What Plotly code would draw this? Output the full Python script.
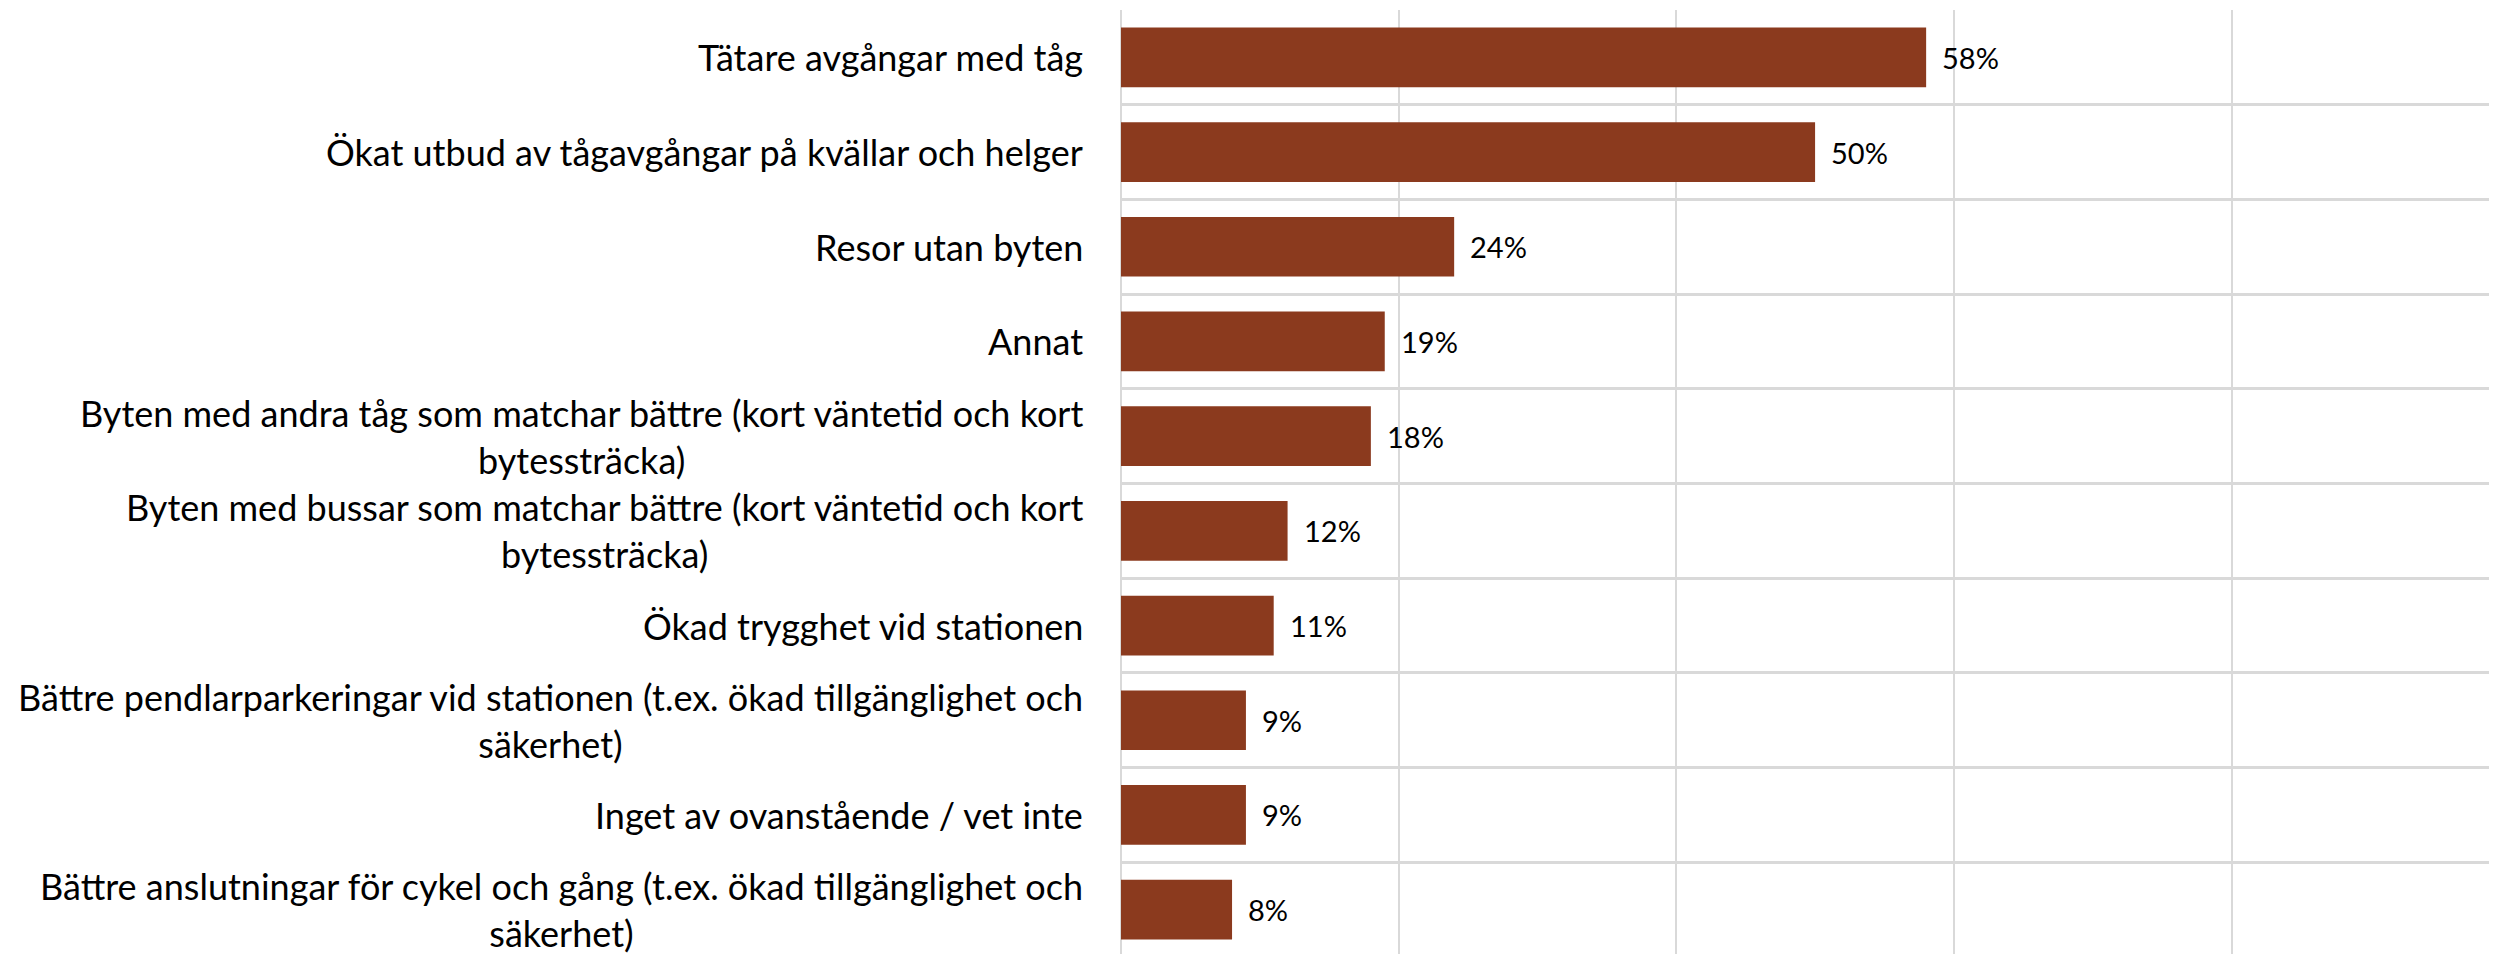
import plotly.graph_objects as go

categories = [
    "Tätare avgångar med tåg",
    "Ökat utbud av tågavgångar på kvällar och helger",
    "Resor utan byten",
    "Annat",
    "Byten med andra tåg som matchar bättre (kort väntetid och kort<br>bytessträcka)",
    "Byten med bussar som matchar bättre (kort väntetid och kort<br>bytessträcka)",
    "Ökad trygghet vid stationen",
    "Bättre pendlarparkeringar vid stationen (t.ex. ökad tillgänglighet och<br>säkerhet)",
    "Inget av ovanstående / vet inte",
    "Bättre anslutningar för cykel och gång (t.ex. ökad tillgänglighet och<br>säkerhet)",
]
values = [58, 50, 24, 19, 18, 12, 11, 9, 9, 8]
value_labels = ["58%", "50%", "24%", "19%", "18%", "12%", "11%", "9%", "9%", "8%"]
x_ticks = [0, 20, 40, 60, 80, 100]

FONT = "Lato"
BAR = "#8B3A1E"
GRID = "#D9D9D9"

idx = list(range(len(categories)))

fig = go.Figure()
fig.add_trace(go.Bar(
    x=values,
    y=idx,
    orientation="h",
    marker=dict(color=BAR, line=dict(width=0)),
    hoverinfo="skip",
))

for i, c in zip(idx, categories):
    fig.add_annotation(
        x=0, xref="paper", xanchor="right", xshift=-36,
        y=i, yref="y", yanchor="middle",
        text=c, showarrow=False, align="center",
        font=dict(family=FONT, size=36, color="#000000"),
    )

for i, v, t in zip(idx, values, value_labels):
    fig.add_annotation(
        x=v, xref="x", xanchor="left", xshift=14,
        y=i, yref="y", yanchor="middle",
        text=t, showarrow=False,
        font=dict(family=FONT, size=29, color="#000000"),
    )

fig.update_layout(
    width=2497, height=954,
    margin=dict(l=1113, r=0, t=2, b=5),
    paper_bgcolor="white", plot_bgcolor="white",
    bargap=0.37,
    showlegend=False,
    xaxis=dict(
        range=[0, 99.7], tickvals=x_ticks, showticklabels=False,
        showgrid=True, gridcolor=GRID, gridwidth=2,
        zeroline=True, zerolinecolor=GRID, zerolinewidth=2,
        showline=False, fixedrange=True,
    ),
    yaxis=dict(
        range=[len(categories) - 0.5, -0.5],
        tickvals=[i + 0.5 for i in idx] + [-0.5],
        showticklabels=False,
        showgrid=True, gridcolor=GRID, gridwidth=3,
        zeroline=False, showline=False, fixedrange=True,
    ),
)

fig.write_html("out.html")
